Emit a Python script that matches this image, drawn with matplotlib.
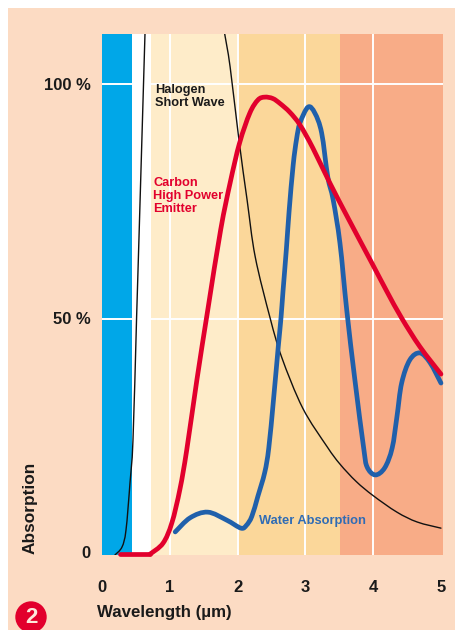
import numpy as np
import matplotlib
matplotlib.use("Agg")
import matplotlib.pyplot as plt
from matplotlib.patches import Circle, PathPatch, Rectangle
from matplotlib.path import Path

# values (wavelength in um, absorption in %)
halogen_up_x = [0.19, 0.295, 0.354, 0.413, 0.457, 0.51, 0.549, 0.634]
halogen_up_y = [0, 1.7, 5.3, 15.3, 24.4, 50.3, 69, 110.6]
halogen_down_x = [1.81, 1.89, 2.02, 2.14, 2.26, 2.48, 2.65, 2.96, 3.32, 3.51, 3.75, 4.0, 4.35, 4.65, 5.0]
halogen_down_y = [110.6, 103.6, 88.1, 75.4, 63.3, 50.3, 42, 31.2, 23, 19.3, 15.6, 12.6, 9.1, 7, 5.7]
carbon_flat_x = [0.265, 0.71]
carbon_flat_y = [0.2, 0.2]
carbon_x = [0.71, 0.90, 1.03, 1.15, 1.25, 1.40, 1.56, 1.75, 1.89, 2.03, 2.18, 2.30, 2.40, 2.52, 2.63, 2.77,
            2.92, 3.11, 3.36, 3.63, 3.98, 4.2, 4.42, 4.69, 5.0]
carbon_y = [0.2, 2.5, 6.8, 14, 22.3, 37.2, 52, 69, 79, 87.5, 93.8, 96.6, 97.2, 96.9, 95.8, 94,
            91.3, 86.4, 79, 71.5, 62, 56, 50.3, 44.2, 38.4]
water_x = [1.08, 1.30, 1.56, 1.84, 2.05, 2.13, 2.21, 2.30, 2.40, 2.46, 2.53, 2.60, 2.64, 2.67, 2.72, 2.76, 2.82, 2.87, 2.92, 3.04,
           3.14, 3.24, 3.33, 3.41, 3.51, 3.61, 3.73, 3.86, 3.91, 4.03, 4.17, 4.28, 4.35, 4.42, 4.54, 4.69, 4.84, 5.0]
water_y = [4.9, 7.9, 9.1, 7.4, 5.7, 6.3, 8.2, 12.5, 17.5, 22.7, 33, 44.2, 50.3, 56, 65, 73, 82.8, 88.3, 91.7, 95.1,
           93.8, 89.6, 80.3, 75.4, 66.2, 52, 37.2, 22.7, 18.7, 17, 18.5, 22.7, 29.3, 36.5, 41.4, 42.9, 40.8, 36.5]
band_edges = [0, 0.44, 0.72, 2.0, 3.51, 5.03]
band_colors = ["#00a7e8", "#ffffff", "#feecc9", "#fbd79a", "#f8ac87"]
x_ticks = [0, 1, 2, 3, 4, 5]
y_labels = ["100 %", "50 %", "0"]


def smooth_path(xs, ys):
    # catmull-rom through the read points, as bezier segments
    pts = np.column_stack([xs, ys])
    p = np.vstack([pts[0], pts, pts[-1]])
    verts = [pts[0]]
    codes = [Path.MOVETO]
    for i in range(1, len(p) - 2):
        verts += [p[i] + (p[i + 1] - p[i - 1]) / 6, p[i + 1] - (p[i + 2] - p[i]) / 6, p[i + 1]]
        codes += [Path.CURVE4] * 3
    return Path(verts, codes)


def draw_curve(ax, xs, ys, color, lw, z, clip=True):
    patch = PathPatch(smooth_path(xs, ys), fc="none", ec=color, lw=lw, zorder=z, capstyle="round", joinstyle="round")
    ax.add_patch(patch)
    patch.set_clip_on(clip)


W, H = 455, 630
plt.rcParams["font.family"] = ["Liberation Sans", "DejaVu Sans"]
fig = plt.figure(figsize=(W / 100, H / 100), dpi=100, facecolor="white")

bg = fig.add_axes([0, 0, 1, 1])
bg.set_xlim(0, W)
bg.set_ylim(H, 0)
bg.axis("off")
bg.add_patch(Rectangle((8, 8), W - 8, H - 8, color="#fcdbc3", lw=0))
bg.add_patch(Circle((31, 617), 15.7, color="#e2002d", lw=0))
bg.text(31, 617.5, "2", color="#fde8dc", fontsize=16, fontweight="bold", ha="center", va="center")

ax = fig.add_axes([102 / W, 1 - 555 / H, 341 / W, 521 / H], zorder=2)
ax.set_xlim(0, 5.03)
ax.set_ylim(0, 110.6)
for i, c in enumerate(band_colors):
    ax.axvspan(band_edges[i], band_edges[i + 1], color=c, lw=0, zorder=0)
for v in [1, 2, 3, 4]:
    ax.plot([v, v], [0, 110.6], color="white", lw=1.4, zorder=1)
for v in [50, 100]:
    ax.axhline(v, color="white", lw=1.4, zorder=1)
for s in ax.spines.values():
    s.set_visible(False)
ax.set_xticks([])
ax.set_yticks([])

draw_curve(ax, halogen_up_x, halogen_up_y, "#111111", 1.0, 3)
draw_curve(ax, halogen_down_x, halogen_down_y, "#111111", 1.0, 3)
draw_curve(ax, water_x, water_y, "#2060ab", 3.4, 4, clip=False)
ax.plot(carbon_flat_x, carbon_flat_y, color="#e2002d", lw=3.4, zorder=5, solid_capstyle="round", clip_on=False)
draw_curve(ax, carbon_x, carbon_y, "#e2002d", 3.4, 5, clip=False)

txt = "#1a1a1a"
for lab, y in zip(y_labels, [86, 319, 554]):
    bg.text(91, y, lab, fontsize=12, fontweight="bold", color=txt, ha="right", va="center")
for v in x_ticks:
    bg.text(102 + v * 67.8, 587.5, str(v), fontsize=12, fontweight="bold", color=txt, ha="center", va="center")
bg.text(97, 612, "Wavelength (\u00b5m)", fontsize=12.2, fontweight="bold", color=txt, ha="left", va="center")
bg.text(30.5, 508, "Absorption", fontsize=12.4, fontweight="bold", color=txt, rotation=90, ha="center", va="center")

fig.text(155 / W, 1 - 96.5 / H, "Halogen\nShort Wave", fontsize=9.2, fontweight="bold", color=txt, ha="left", va="center", linespacing=1.13, zorder=6)
fig.text(153 / W, 1 - 196 / H, "Carbon\nHigh Power\nEmitter", fontsize=9.2, fontweight="bold", color="#e2002d", ha="left", va="center", linespacing=1.13, zorder=6)
fig.text(259 / W, 1 - 521 / H, "Water Absorption", fontsize=9.3, fontweight="bold", color="#2f6cb5", ha="left", va="center", zorder=6)

fig.savefig("out.png", dpi=100)
